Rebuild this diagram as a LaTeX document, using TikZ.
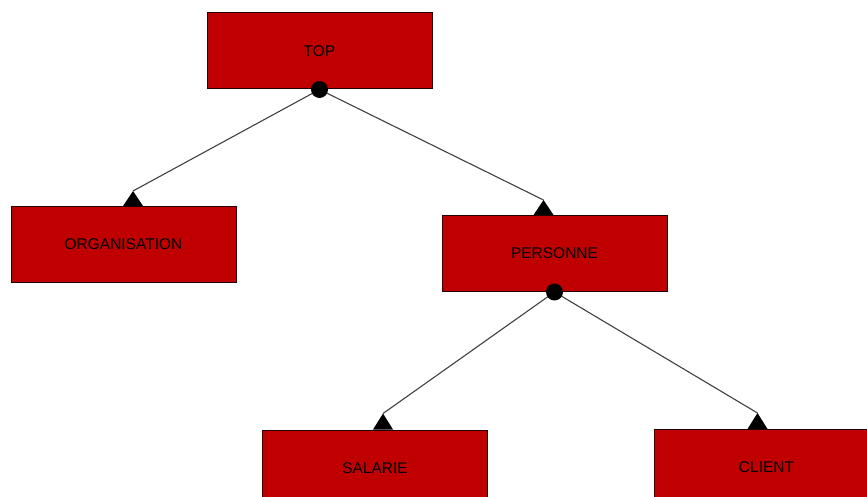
\documentclass[tikz,border=0pt]{standalone}
\usepackage{fontspec}
\setmainfont{Liberation Sans}
\begin{document}
\begin{tikzpicture}[x=1pt,y=-1pt,
  classbox/.style={draw=black!85!red, line width=1pt, fill={rgb,255:red,192;green,0;blue,0},
    minimum width=225pt, minimum height=76pt, inner sep=0pt,
    font=\fontsize{15.5}{17}\selectfont, text=black},
  joint/.style={circle, fill=black, inner sep=0pt, minimum size=17pt},
  edge/.style={draw=black!75, line width=1.1pt},
  tiphead/.style={fill=black}
]
\useasboundingbox (0,0) rectangle (867,497);
\clip (0,0) rectangle (867,497);

% class boxes
\node[classbox] (top)  at (319.5,51)  {TOP};
\node[classbox] (org)  at (123.5,244.5) {ORGANISATION};
\node[classbox] (pers) at (554.5,253.5) {PERSONNE};
\node[classbox] (sal)  at (375,468)   {SALARIE};
\node[classbox] (cli)  at (766.5,467.5) {CLIENT};

% arrow tips resting on the top edge of each child
\coordinate (orgtip)  at ([xshift=9.5pt, yshift=15pt]org.north);
\coordinate (perstip) at ([xshift=-11pt, yshift=15pt]pers.north);
\coordinate (saltip)  at ([xshift=8pt,  yshift=16pt]sal.north);
\coordinate (clitip)  at ([xshift=-9pt, yshift=16pt]cli.north);

% connectors from the junction dots
\draw[edge] (top.south) -- (orgtip);
\draw[edge] (top.south) -- (perstip);
\draw[edge] (pers.south) -- (saltip);
\draw[edge] (pers.south) -- (clitip);

% triangular heads
\foreach \t/\b in {orgtip/org, perstip/pers, saltip/sal, clitip/cli}{
  \fill[tiphead] (\t) -- ([xshift=-10pt]\t |- \b.north) -- ([xshift=10pt]\t |- \b.north) -- cycle;
}

% junction dots
\node[joint] (topdot)  at (top.south) {};
\node[joint] (persdot) at (pers.south) {};
\end{tikzpicture}
\end{document}
